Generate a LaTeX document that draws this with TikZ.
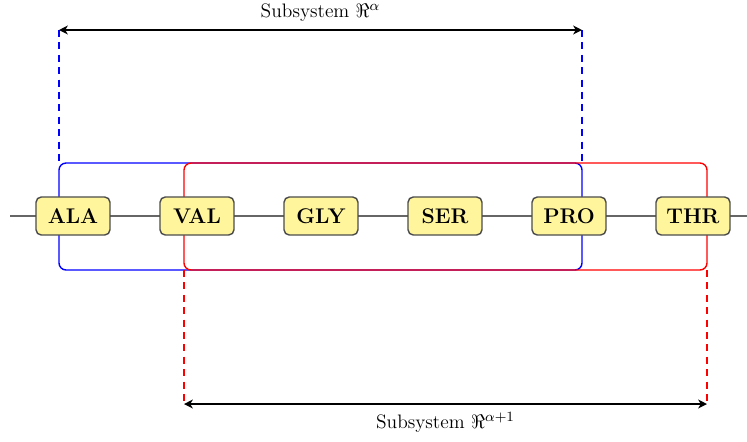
\documentclass[tikz,border=0pt]{standalone}
\usetikzlibrary{arrows.meta}
\definecolor{resfill}{RGB}{255,245,157}
\begin{document}
\begin{tikzpicture}[x=0.565pt,y=-0.565pt,
  res/.style={draw=black!70, fill=resfill, rounded corners=3pt, minimum width=41.8pt, minimum height=21.5pt, font=\large\bfseries, thick, inner sep=0pt},
  chain/.style={draw=black!60, thick},
  sysbox/.style={thick, rounded corners=4pt},
  guide/.style={very thick, dashed, dash pattern=on 4pt off 3pt},
  lbl/.style={font=\fontsize{11}{13}\selectfont},
  span/.style={thick, {Stealth[length=5pt,width=5pt,inset=1.5pt]}-{Stealth[length=5pt,width=5pt,inset=1.5pt]}}]
\useasboundingbox (0,0) rectangle (747,441);
% subsystem boxes
\coordinate (bTL) at (59,163); \coordinate (bBR) at (582,270); \coordinate (bTR) at (582,163);
\coordinate (rBL) at (184,270); \coordinate (rTR) at (707,163); \coordinate (rBR) at (707,270);
\draw[sysbox, blue] (bTL) rectangle (bBR);
\draw[sysbox, red] (rBL) rectangle (rTR);
% chain
\coordinate (L) at (10,216); \coordinate (R) at (747,216);
\draw[chain] (L) -- (R);
\node[res] (ala) at (73,216) {ALA};
\node[res] (val) at (197,216) {VAL};
\node[res] (gly) at (321,216) {GLY};
\node[res] (ser) at (445,216) {SER};
\node[res] (pro) at (569,216) {PRO};
\node[res] (thr) at (693,216) {THR};
% top span
\coordinate (ta) at (59,30); \coordinate (tb) at (582,30);
\draw[guide, blue] (ta) -- (bTL);
\draw[guide, blue] (tb) -- (bTR);
\draw[span] (ta) -- node[above=1pt, lbl] (tl) {Subsystem $\Re^{\alpha}$} (tb);
% bottom span
\coordinate (ba) at (184,404); \coordinate (bb) at (707,404);
\draw[guide, red] (rBL) -- (ba);
\draw[guide, red] (rBR) -- (bb);
\draw[span] (ba) -- node[below=1pt, lbl] (bl) {Subsystem $\Re^{\alpha+1}$} (bb);
\end{tikzpicture}
\end{document}
